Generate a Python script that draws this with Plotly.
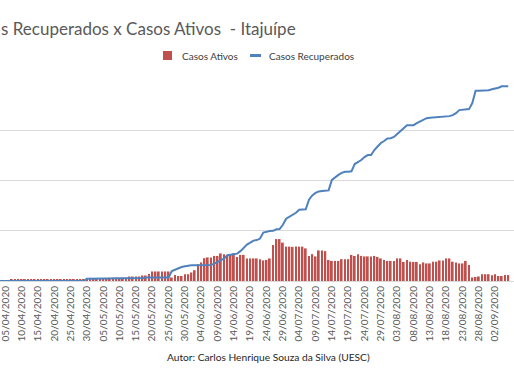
import plotly.graph_objects as go
import pandas as pd

start_date = "2020-04-02"

casos_ativos = (
    [0] * 5 + [5] * 8 + [7] * 15 + [8] * 4 + [10] * 4 + [13] * 5 + [18] * 4 + [22] * 2 + [28] + [38] * 6 +
    [14, 24, 20, 20, 27, 27, 34, 43, 67, 74,
     91, 94, 94, 100, 100, 110, 107, 104, 107, 110,
     96, 104, 104, 90, 90, 90, 90, 87, 82, 84,
     90, 143, 167, 167, 153, 137, 137, 136, 137, 137,
     137, 130, 100, 107, 98, 122, 122, 119, 84, 80,
     80, 80, 87, 87, 87, 104, 100, 107, 100, 98,
     98, 98, 100, 96, 90, 84, 80, 80, 80, 90,
     90, 76, 84, 77, 76, 76, 67, 74, 70, 70,
     77, 77, 82, 82, 90, 90, 77, 74, 70, 70,
     80, 64, 14, 16, 18, 27, 27, 27, 23, 27,
     20, 20, 24, 24]
)

casos_recuperados = (
    [0] * 28 + [9] * 13 + [12] * 5 + [14] * 8 +
    [40, 46, 52, 56, 59, 62, 63, 63, 63, 63,
     63, 64, 64, 69, 77, 83, 89, 103, 105, 107,
     109, 119, 133, 145, 153, 161, 163, 169, 193, 197,
     199, 200, 206, 207, 224, 248, 256, 264, 272, 284,
     284, 286, 324, 341, 351, 357, 359, 359, 361, 403,
     415, 423, 431, 435, 435, 437, 466, 474, 482, 494,
     502, 502, 522, 536, 550, 558, 568, 569, 574, 586,
     597, 609, 621, 621, 621, 629, 635, 643, 649, 651,
     652, 653, 653, 653, 654, 657, 661, 669, 681, 683,
     683, 685, 709, 758, 758, 758, 758, 760, 764, 766,
     770, 776, 776, 776]
)

datas = pd.date_range(start_date, periods=len(casos_ativos), freq="D")
# tick labels every 5 days, 05/04/2020 ... 02/09/2020
tick_datas = list(datas[3:154:5])

titulo = "s Recuperados x Casos Ativos  - Itajuípe"
autor = "Autor: Carlos Henrique Souza da Silva (UESC)"
nomes = ["Casos Ativos", "Casos Recuperados"]
cores = ["#C0504D", "#4F81BD"]

W, H = 514, 386
ML, MR, MT, MB = 0, 0, 80, 105
PW, PH = W - ML - MR, H - MT - MB

def px(x):  # pixel x -> paper
    return (x - ML) / PW

def py(y):  # pixel y (from top) -> paper
    return (H - MB - y) / PH

font_fam = "Lato, Open Sans, sans-serif"
gray = "#595959"

fig = go.Figure()
fig.add_trace(go.Bar(
    x=datas, y=casos_ativos, name=nomes[0],
    marker=dict(color=cores[0], line=dict(width=0)),
))
fig.add_trace(go.Scatter(
    x=datas, y=casos_recuperados, name=nomes[1], mode="lines",
    line=dict(color=cores[1], width=2),
))

shapes = [
    dict(type="rect", xref="paper", yref="paper", x0=px(163), x1=px(172), y0=py(60), y1=py(51),
         fillcolor=cores[0], line=dict(width=0)),
    dict(type="line", xref="paper", yref="paper", x0=px(250), x1=px(261), y0=py(55.5), y1=py(55.5),
         line=dict(color=cores[1], width=3)),
]

annotations = [
    dict(text=titulo, xref="paper", x=px(-1), xanchor="left", yref="paper", y=py(28), yanchor="middle",
         showarrow=False, font=dict(size=17, color=gray, family=font_fam)),
    dict(text=nomes[0], xref="paper", x=px(180), xanchor="left", yref="paper", y=py(55.5), yanchor="middle",
         showarrow=False, font=dict(size=10, color="#404040", family=font_fam)),
    dict(text=nomes[1], xref="paper", x=px(267), xanchor="left", yref="paper", y=py(55.5), yanchor="middle",
         showarrow=False, font=dict(size=10, color="#404040", family=font_fam)),
    dict(text=autor, xref="paper", x=px(268), xanchor="center", yref="paper", y=py(357), yanchor="middle",
         showarrow=False, font=dict(size=10.2, color="#262626", family=font_fam)),
]

fig.update_layout(
    width=W, height=H,
    margin=dict(l=ML, r=MR, t=MT, b=MB, autoexpand=False),
    paper_bgcolor="white", plot_bgcolor="white",
    bargap=0.45,
    font=dict(family=font_fam, color=gray, size=10),
    showlegend=False,
    shapes=shapes,
    annotations=annotations,
)

fig.update_xaxes(
    type="date", automargin=False,
    range=["2020-04-03 09:20", "2020-09-07 18:15"],
    tickmode="array", tickvals=tick_datas, tickformat="%d/%m/%Y",
    tickangle=-90, ticks="", showgrid=False, ticklabeloverflow="allow",
    showline=True, linecolor="#D9D9D9", linewidth=1,
    tickfont=dict(size=10, color=gray, family=font_fam),
)
fig.update_yaxes(
    range=[0, 801], dtick=200, showticklabels=False, automargin=False,
    showgrid=True, gridcolor="#D9D9D9", gridwidth=1,
    zeroline=False, showline=False,
)

fig.write_html("out.html", config={"displayModeBar": False},
               post_script="document.body.style.margin='0';document.body.style.padding='0';")
